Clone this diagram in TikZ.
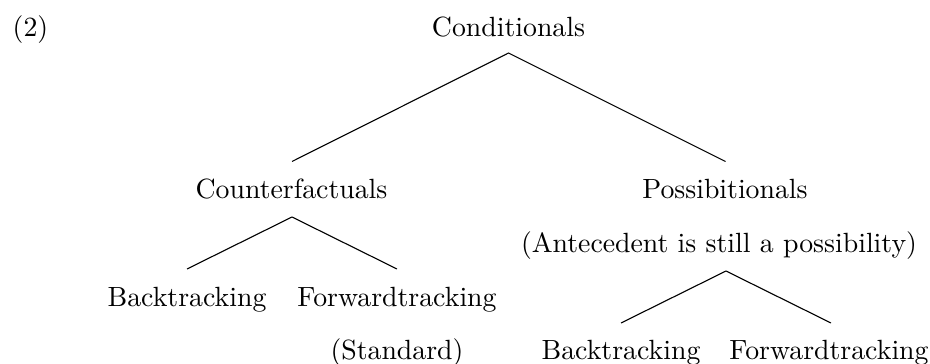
\documentclass[tikz,border=0pt]{standalone}
\begin{document}
\begin{tikzpicture}[x=0.3597pt,y=-0.3597pt,
  lbl/.style={anchor=base,inner sep=0pt,outer sep=0pt},
  branch/.style={line width=0.4pt}]
\useasboundingbox (0,0) rectangle (930,364);

% example number
\node[lbl] (num) at (30.5,36) {(2)};

% root
\node[lbl] (cond) at (508.5,36) {Conditionals};
\coordinate (condtop) at (508.5,53);
\coordinate (cfL) at (292,161.5);
\coordinate (poR) at (725.5,161.5);

% first level
\node[lbl] (cf) at (291.5,198) {Counterfactuals};
\node[lbl] (po) at (725,198) {Possibitionals};
\node[lbl] (poNote) at (719,252) {(Antecedent is still a possibility)};

% counterfactual branches
\coordinate (cftop) at (292,217);
\coordinate (cfbL) at (187,269);
\coordinate (cfbR) at (397,269);
\node[lbl] (cfB) at (187,306) {Backtracking};
\node[lbl] (cfF) at (397,306) {Forwardtracking};
\node[lbl] (cfS) at (397,359) {(Standard)};

% possibitional branches
\coordinate (potop) at (726,271);
\coordinate (pobL) at (621,323);
\coordinate (pobR) at (831,323);
\node[lbl] (poB) at (621,359) {Backtracking};
\node[lbl] (poF) at (829,359) {Forwardtracking};

\draw[branch] (cfL) -- (condtop) -- (poR);
\draw[branch] (cfbL) -- (cftop) -- (cfbR);
\draw[branch] (pobL) -- (potop) -- (pobR);
\end{tikzpicture}
\end{document}
